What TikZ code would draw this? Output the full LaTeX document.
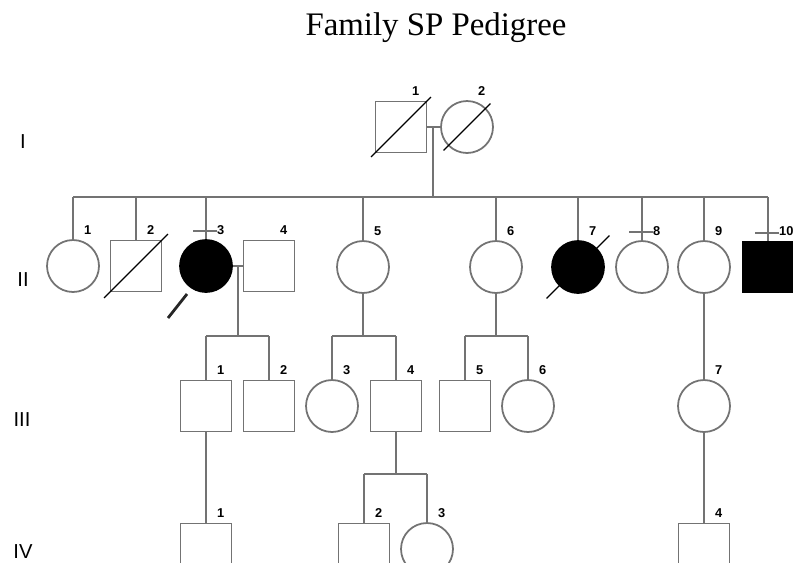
\documentclass[tikz,border=0pt]{standalone}
\usepackage{fontspec}
\setmainfont{Liberation Serif}
\setsansfont{Liberation Sans}
\usetikzlibrary{positioning}
\usetikzlibrary{arrows.meta}
\tikzset{line/.style = {draw=black!55, line width=1pt}}
\tikzset{male/.style = {line, rectangle, minimum size=1.02cm, inner sep=0}}
\tikzset{female/.style = {line, circle, minimum size=1.04cm, inner sep=0}}
\tikzset{affected/.style = {fill=black, draw=black}}
\tikzset{lbl/.style = {font=\sffamily\bfseries\fontsize{7.3}{8}\selectfont, inner sep=0.5pt}}
\tikzset{num/.style = {label={[lbl, anchor=south west, xshift=0.2cm, yshift=0.07cm]north:#1}}}
\tikzset{gen/.style = {font=\sffamily\fontsize{11.5}{12}\selectfont}}
\newcommand{\deceased}[2]{\draw [black, line width=0.7pt] ([shift={(-#2,-#2)}]#1.center) -- ([shift={(#2,#2)}]#1.center);}
\newcommand{\crossbar}[1]{\draw [line] ([xshift=-0.26cm, yshift=0.16cm]#1.north) -- ([xshift=0.22cm, yshift=0.16cm]#1.north);}

\begin{document}
\begin{tikzpicture}[x=0.02cm, y=-0.02cm]
    \useasboundingbox (0,0) rectangle (793,562);

    \node [font=\fontsize{18.7}{20}\selectfont, anchor=base] (title) at (436,35) {Family SP Pedigree};

    \node [gen] (genI) at (23,142) {I};
    \node [gen] (genII) at (23,280) {II};
    \node [gen] (genIII) at (22,420) {III};
    \node [gen] (genIV) at (23,552) {IV};

    % generation I
    \node [male, num=1] (I1) at (401,127) {};
    \node [female, num=2] (I2) at (467,127) {};
    \deceased{I1}{0.6cm}
    \deceased{I2}{0.47cm}
    \coordinate (mI) at (433,127);
    \coordinate (sibI) at (433,197);
    \draw [line] (I1) -- (I2);
    \draw [line] (mI) -- (sibI);

    % generation II
    \node [female, num=1] (II1) at (73,266) {};
    \node [male, num=2] (II2) at (136,266) {};
    \node [female, affected, num=3] (II3) at (206,266) {};
    \node [male, num=4] (II4) at (269,266) {};
    \node [female, num=5] (II5) at (363,267) {};
    \node [female, num=6] (II6) at (496,267) {};
    \node [female, affected, num=7] (II7) at (578,267) {};
    \node [female, num=8] (II8) at (642,267) {};
    \node [female, num=9] (II9) at (704,267) {};
    \node [male, affected, num=10] (II10) at (768,267) {};
    \deceased{II2}{0.64cm}
    \deceased{II7}{0.63cm}
    \crossbar{II3}
    \crossbar{II8}
    \crossbar{II10}

    \draw [line] (II1.north |- sibI) -- (II10.north |- sibI);
    \foreach \n in {II1, II2, II3, II5, II6, II7, II8, II9, II10}
      \draw [line] (\n.north) -- (\n.north |- sibI);

    \coordinate (pb) at (168,318);
    \coordinate (pbtip) at (187,294);
    \draw [black!85, line width=1.6pt] (pb) -- (pbtip);

    % generation III
    \node [male, num=1] (III1) at (206,406) {};
    \node [male, num=2] (III2) at (269,406) {};
    \node [female, num=3] (III3) at (332,406) {};
    \node [male, num=4] (III4) at (396,406) {};
    \node [male, num=5] (III5) at (465,406) {};
    \node [female, num=6] (III6) at (528,406) {};
    \node [female, num=7] (III7) at (704,406) {};

    \coordinate (mII) at (238,266);
    \coordinate (sibIIa) at (238,336);
    \coordinate (sibIIb) at (363,336);
    \coordinate (sibIIc) at (496,336);
    \draw [line] (II3) -- (II4);
    \draw [line] (mII) -- (sibIIa);
    \draw [line] (III1.north |- sibIIa) -- (III2.north |- sibIIa);
    \draw [line] (II5.south) -- (sibIIb);
    \draw [line] (III3.north |- sibIIb) -- (III4.north |- sibIIb);
    \draw [line] (II6.south) -- (sibIIc);
    \draw [line] (III5.north |- sibIIc) -- (III6.north |- sibIIc);
    \foreach \n/\s in {III1/sibIIa, III2/sibIIa, III3/sibIIb, III4/sibIIb, III5/sibIIc, III6/sibIIc}
      \draw [line] (\n.north) -- (\n.north |- \s);
    \draw [line] (II9) -- (III7);

    % generation IV
    \node [male, num=1] (IV1) at (206,549) {};
    \node [male, num=2] (IV2) at (364,549) {};
    \node [female, num=3] (IV3) at (427,549) {};
    \node [male, num=4] (IV4) at (704,549) {};

    \coordinate (sibIII) at (396,474);
    \draw [line] (III1) -- (IV1);
    \draw [line] (III4.south) -- (sibIII);
    \draw [line] (IV2.north |- sibIII) -- (IV3.north |- sibIII);
    \draw [line] (IV2.north) -- (IV2.north |- sibIII);
    \draw [line] (IV3.north) -- (IV3.north |- sibIII);
    \draw [line] (III7) -- (IV4);
\end{tikzpicture}
\end{document}
